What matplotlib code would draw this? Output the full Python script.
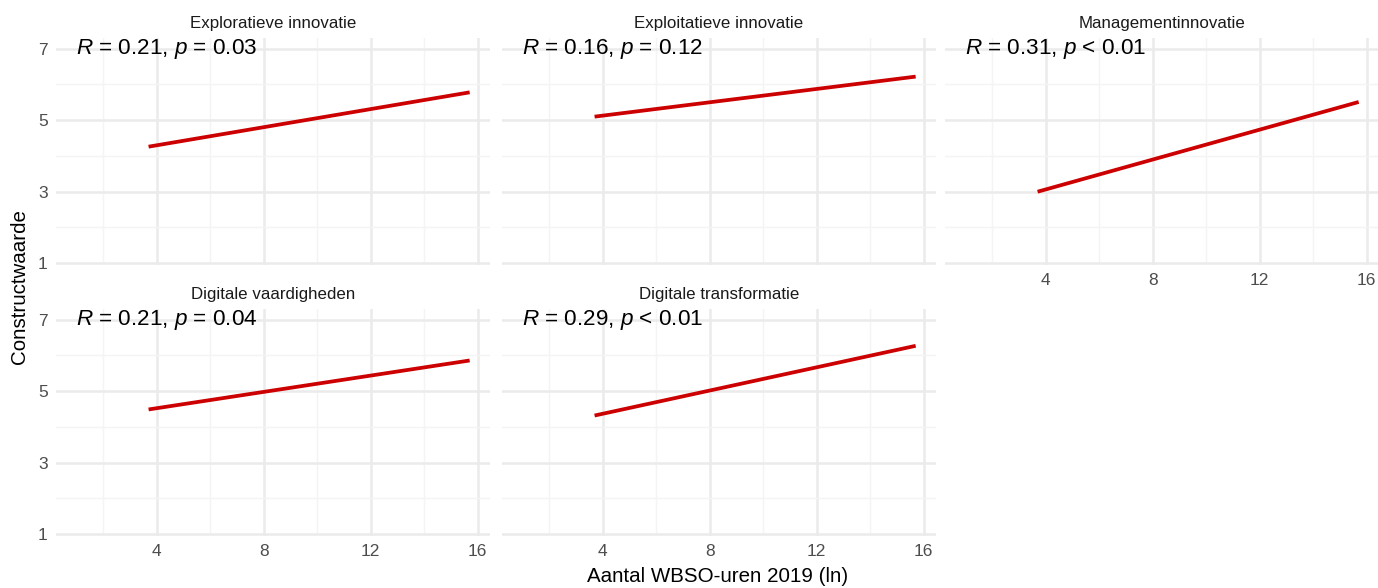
import matplotlib
matplotlib.use("Agg")
import matplotlib.pyplot as plt

plt.rcParams['font.family'] = ['Liberation Sans', 'DejaVu Sans']
plt.rcParams['mathtext.fontset'] = 'custom'
plt.rcParams['mathtext.rm'] = 'Liberation Sans'
plt.rcParams['mathtext.it'] = 'Liberation Sans:italic'

# data (fitted regression lines, endpoints)
panels = ["Exploratieve innovatie", "Exploitatieve innovatie", "Managementinnovatie",
          "Digitale vaardigheden", "Digitale transformatie"]
r_vals = ["0.21", "0.16", "0.31", "0.21", "0.29"]
p_vals = ["= 0.03", "= 0.12", "< 0.01", "= 0.04", "< 0.01"]
x_start = [3.7, 3.7, 3.7, 3.7, 3.7]
x_end = [15.7, 15.7, 15.7, 15.7, 15.7]
y_start = [4.26, 5.10, 3.00, 4.49, 4.32]
y_end = [5.78, 6.22, 5.51, 5.86, 6.27]
x_ticks = [4, 8, 12, 16]
y_ticks = [1, 3, 5, 7]

W, H = 1378, 588
fig = plt.figure(figsize=(W / 100, H / 100), dpi=100)

col_left = [56, 502, 945]
row_top = [38, 309]
pw, ph = 434, 227

def px_rect(l, t, w, h):
    return [l / W, 1 - (t + h) / H, w / W, h / H]

for i, name in enumerate(panels):
    r, c = divmod(i, 3)
    ax = fig.add_axes(px_rect(col_left[c], row_top[r], pw, ph))
    ax.set_xlim(0.24, 16.46)
    ax.set_ylim(0.95, 7.30)
    ax.set_xticks(x_ticks)
    ax.set_xticks([2, 6, 10, 14], minor=True)
    ax.set_yticks(y_ticks)
    ax.set_yticks([2, 4, 6], minor=True)
    ax.grid(which='major', color='#ebebeb', linewidth=1.8)
    ax.grid(which='minor', color='#f4f4f4', linewidth=1.0)
    ax.set_axisbelow(True)
    for s in ax.spines.values():
        s.set_visible(False)
    ax.tick_params(which='both', length=0, labelsize=12.5, labelcolor='#4d4d4d', pad=6)
    if c != 0:
        ax.set_yticklabels([])
    if not (r == 1 or c == 2):
        ax.set_xticklabels([])
    ax.plot([x_start[i], x_end[i]], [y_start[i], y_end[i]], color='#cc0000',
            linewidth=2.7, solid_capstyle='butt')
    ax.text(1.0, 7.0, r"$R$ = %s, $p$ %s" % (r_vals[i], p_vals[i]),
            fontsize=16.2, color='black', ha='left', va='center')
    ax.set_title(name, fontsize=12.2, color='#1a1a1a', pad=7)

fig.text(20 / W, 1 - 287 / H, "Constructwaarde", rotation=90, fontsize=14.8,
         ha='center', va='center', color='black')
fig.text(718 / W, 1 - 577 / H, "Aantal WBSO-uren 2019 (ln)", fontsize=14.8,
         ha='center', va='center', color='black')

fig.savefig("out.png", dpi=100)
